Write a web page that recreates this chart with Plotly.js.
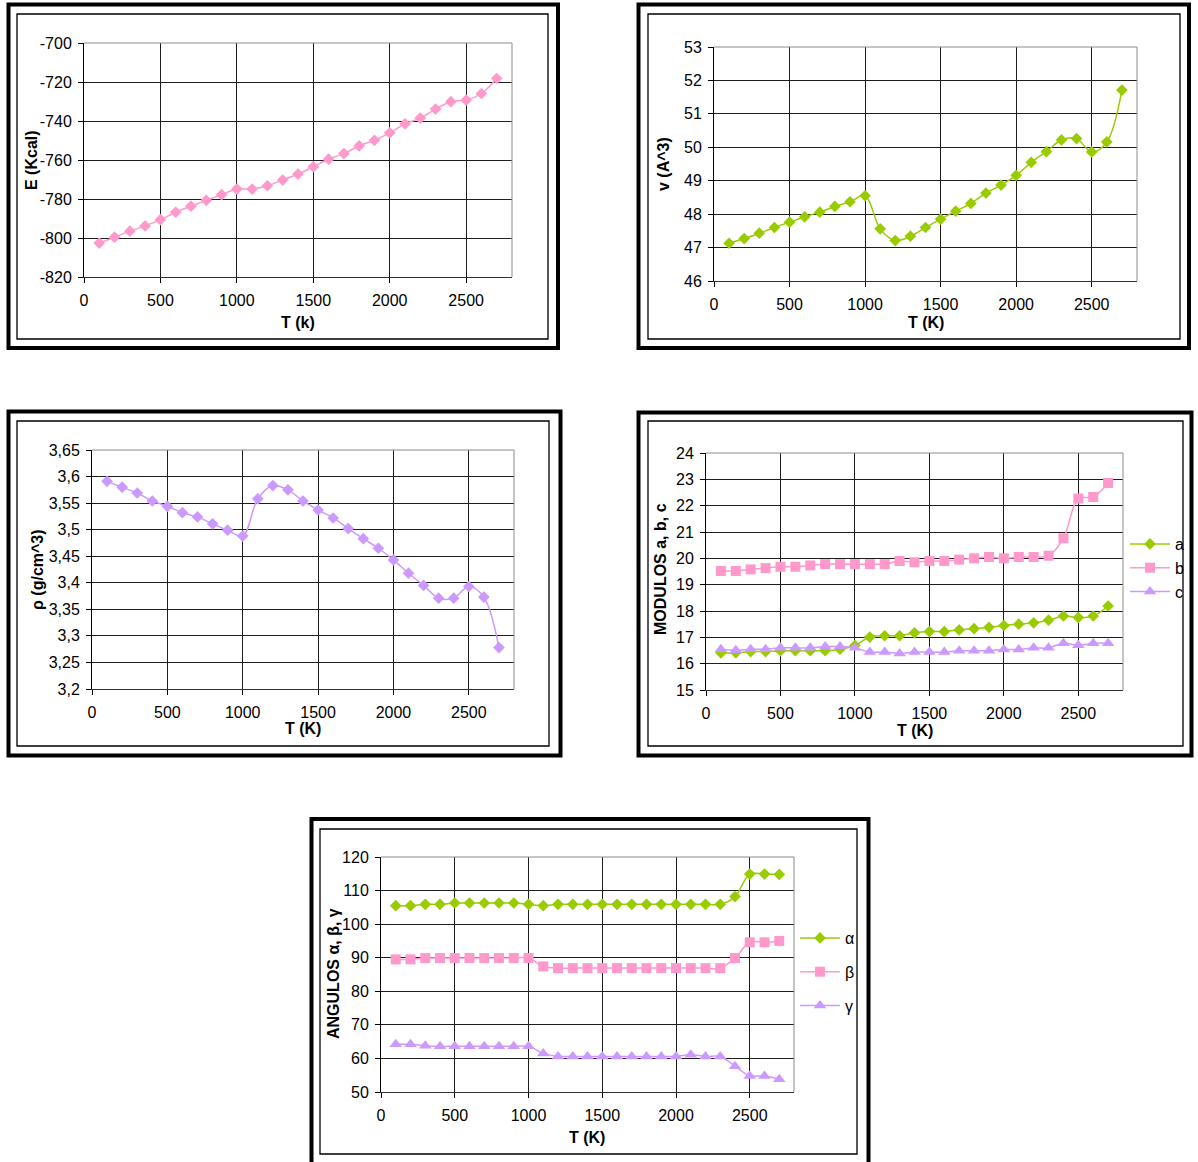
<!DOCTYPE html>
<html>
<head>
<meta charset="utf-8">
<script src="https://cdn.plot.ly/plotly-3.0.1.min.js"></script>
<style>
  html, body { margin: 0; padding: 0; background: #ffffff; }
  #chart { width: 1198px; height: 1162px; }
</style>
</head>
<body>
<div id="chart"></div>
<script>
// Temperatura (K)
const temperatura = [100, 200, 300, 400, 500, 600, 700, 800, 900, 1000, 1100, 1200, 1300, 1400,
  1500, 1600, 1700, 1800, 1900, 2000, 2100, 2200, 2300, 2400, 2500, 2600, 2700];

// Energía (Kcal)
const energia = [-802.6, -799.6, -796.5, -793.8, -790.6, -786.8, -783.7, -780.7, -777.8, -774.9,
  -774.9, -773.2, -770.3, -767.2, -763.5, -759.6, -756.7, -752.8, -749.9, -746.1,
  -741.5, -738.5, -733.9, -730.1, -729.3, -725.9, -718.2];

// Volumen (A^3)
const volumen = [47.13, 47.27, 47.43, 47.60, 47.76, 47.92, 48.06, 48.23, 48.37, 48.55,
  47.56, 47.21, 47.34, 47.60, 47.85, 48.09, 48.32, 48.63, 48.87, 49.16,
  49.55, 49.87, 50.22, 50.26, 49.86, 50.16, 51.71];

// Densidad (g/cm^3)
const densidad = [3.591, 3.580, 3.569, 3.554, 3.544, 3.532, 3.524, 3.511, 3.499, 3.488,
  3.558, 3.583, 3.575, 3.554, 3.537, 3.522, 3.502, 3.483, 3.465, 3.443,
  3.418, 3.395, 3.371, 3.371, 3.393, 3.373, 3.278];

// Módulos a, b, c
const moduloA = [16.41, 16.41, 16.46, 16.46, 16.49, 16.49, 16.49, 16.49, 16.55, 16.69,
  17.01, 17.06, 17.06, 17.17, 17.22, 17.22, 17.28, 17.33, 17.38, 17.45,
  17.50, 17.55, 17.65, 17.81, 17.75, 17.81, 18.19];
const moduloB = [19.52, 19.52, 19.58, 19.63, 19.68, 19.68, 19.73, 19.78, 19.78, 19.78,
  19.78, 19.78, 19.90, 19.85, 19.90, 19.90, 19.95, 20.00, 20.05, 20.00,
  20.05, 20.05, 20.10, 20.76, 22.27, 22.33, 22.86];
const moduloC = [16.55, 16.51, 16.55, 16.55, 16.60, 16.60, 16.60, 16.65, 16.65, 16.60,
  16.44, 16.44, 16.39, 16.44, 16.44, 16.44, 16.49, 16.49, 16.49, 16.54,
  16.54, 16.60, 16.60, 16.78, 16.70, 16.78, 16.78];

// Ángulos α, β, γ
const anguloAlfa = [105.5, 105.5, 105.9, 105.9, 106.3, 106.3, 106.3, 106.3, 106.3, 105.9,
  105.5, 105.9, 105.9, 105.9, 105.9, 105.9, 105.9, 105.9, 105.9, 105.9,
  105.9, 105.9, 105.9, 108.2, 114.9, 114.9, 114.8];
const anguloBeta = [89.5, 89.5, 89.9, 89.9, 89.9, 89.9, 89.9, 89.9, 89.9, 89.9,
  87.4, 86.9, 86.9, 86.9, 86.9, 86.9, 86.9, 86.9, 86.9, 86.9,
  86.9, 86.9, 86.9, 89.9, 94.6, 94.6, 95.0];
const anguloGamma = [64.2, 64.2, 63.8, 63.6, 63.6, 63.6, 63.6, 63.6, 63.6, 63.6,
  61.5, 60.6, 60.6, 60.6, 60.6, 60.6, 60.6, 60.6, 60.6, 60.6,
  61.1, 60.6, 60.6, 57.7, 54.8, 54.8, 53.8];

// Marcas de los ejes
const ticksT = [0, 500, 1000, 1500, 2000, 2500];
const ticksE = [-820, -800, -780, -760, -740, -720, -700];
const etiquetasE = ['-820', '-800', '-780', '-760', '-740', '-720', '-700'];
const ticksV = [46, 47, 48, 49, 50, 51, 52, 53];
const ticksRho = [3.2, 3.25, 3.3, 3.35, 3.4, 3.45, 3.5, 3.55, 3.6, 3.65];
const etiquetasRho = ['3,2', '3,25', '3,3', '3,35', '3,4', '3,45', '3,5', '3,55', '3,6', '3,65'];
const ticksMod = [15, 16, 17, 18, 19, 20, 21, 22, 23, 24];
const ticksAng = [50, 60, 70, 80, 90, 100, 110, 120];

const W = 1198, H = 1162;
const fx = p => p / W;
const fy = p => 1 - p / H;

const VERDE = '#99CC00', ROSA = '#FF99CC', LILA = '#CC99FF';
const FUENTE = 'Liberation Sans, Arial, sans-serif';

function ejeX(x0, x1, anchor) {
  return {
    domain: [fx(x0), fx(x1)], anchor: anchor, range: [0, 2800],
    tickmode: 'array', tickvals: ticksT,
    showgrid: true, gridcolor: '#1e1e1e', gridwidth: 1,
    showline: true, linecolor: '#333333', linewidth: 1,
    ticks: 'outside', ticklen: 5, tickcolor: '#000000', tickwidth: 1,
    ticklabelstandoff: 4,
    tickfont: { family: FUENTE, size: 16, color: '#000000' },
    zeroline: false, fixedrange: true
  };
}
function ejeY(y0, y1, anchor, rango, vals, textos) {
  const e = {
    domain: [fy(y1), fy(y0)], anchor: anchor, range: rango,
    tickmode: 'array', tickvals: vals,
    showgrid: true, gridcolor: '#1e1e1e', gridwidth: 1,
    showline: true, linecolor: '#000000', linewidth: 1,
    ticks: 'outside', ticklen: 5, tickcolor: '#000000', tickwidth: 1,
    ticklabelstandoff: 3,
    tickfont: { family: FUENTE, size: 16, color: '#000000' },
    zeroline: false, fixedrange: true
  };
  if (textos) e.ticktext = textos;
  return e;
}

function serie(y, xa, ya, color, simbolo, tam, nombre, leyenda) {
  return {
    x: temperatura, y: y, xaxis: xa, yaxis: ya,
    type: 'scatter', mode: 'lines+markers', name: nombre,
    line: { color: color, width: 1.5, shape: 'spline', smoothing: 1 },
    marker: { color: color, symbol: simbolo, size: tam },
    showlegend: !!leyenda, legend: leyenda || 'legend', legendgroup: nombre,
    hoverinfo: 'x+y'
  };
}

const datos = [
  serie(energia, 'x', 'y', ROSA, 'diamond', 9, 'E'),
  serie(volumen, 'x2', 'y2', VERDE, 'diamond', 9, 'v'),
  serie(densidad, 'x3', 'y3', LILA, 'diamond', 9, 'ρ'),
  serie(moduloA, 'x4', 'y4', VERDE, 'diamond', 9, 'a', 'legend'),
  serie(moduloB, 'x4', 'y4', ROSA, 'square', 10, 'b', 'legend'),
  serie(moduloC, 'x4', 'y4', LILA, 'triangle-up', 11, 'c', 'legend'),
  serie(anguloAlfa, 'x5', 'y5', VERDE, 'diamond', 9, 'α', 'legend2'),
  serie(anguloBeta, 'x5', 'y5', ROSA, 'square', 10, 'β', 'legend2'),
  serie(anguloGamma, 'x5', 'y5', LILA, 'triangle-up', 11, 'γ', 'legend2')
];

// Marcos: exterior grueso e interior fino de cada gráfico
const marcos = [
  { ext: [8.5, 4.5, 558, 348], int: [17, 14, 548, 339] },
  { ext: [638.5, 4.5, 1189, 348], int: [648, 14, 1180, 339] },
  { ext: [8.5, 411.5, 560.5, 755.5], int: [17, 421, 549, 746] },
  { ext: [638.5, 412.5, 1191.5, 755.5], int: [648, 421, 1183, 746] },
  { ext: [311.5, 819, 868.5, 1166], int: [320, 829, 857, 1154] }
];
const formas = [];
marcos.forEach(m => {
  formas.push({ type: 'rect', xref: 'paper', yref: 'paper', layer: 'above',
    x0: fx(m.ext[0]), y0: fy(m.ext[1]), x1: fx(m.ext[2]), y1: fy(m.ext[3]),
    line: { color: '#000000', width: 4 } });
  formas.push({ type: 'rect', xref: 'paper', yref: 'paper', layer: 'above',
    x0: fx(m.int[0]), y0: fy(m.int[1]), x1: fx(m.int[2]), y1: fy(m.int[3]),
    line: { color: '#000000', width: 1.3 } });
});
// Borde gris superior y derecho del área de trazado
['', '2', '3', '4', '5'].forEach(s => {
  const xr = 'x' + s + ' domain', yr = 'y' + s + ' domain';
  formas.push({ type: 'line', xref: xr, yref: yr, layer: 'above', x0: 0, x1: 1, y0: 1, y1: 1,
    line: { color: '#8c8c8c', width: 1 } });
  formas.push({ type: 'line', xref: xr, yref: yr, layer: 'above', x0: 1, x1: 1, y0: 0, y1: 1,
    line: { color: '#8c8c8c', width: 1 } });
});

function titulo(texto, px, py, vertical) {
  return { text: '<b>' + texto + '</b>', xref: 'paper', yref: 'paper',
    x: fx(px), y: fy(py), xanchor: 'center', yanchor: 'middle',
    showarrow: false, textangle: vertical ? -90 : 0,
    font: { family: FUENTE, size: 16, color: '#000000' } };
}
const titulos = [
  titulo('E (Kcal)', 31, 160, true), titulo('T (k)', 298, 322),
  titulo('v (A^3)', 664, 164, true), titulo('T (K)', 926, 322),
  titulo('ρ (g/cm^3)', 37, 570, true), titulo('T (K)', 303, 729),
  titulo('MODULOS a, b, c', 661, 569, true), titulo('T (K)', 915, 730),
  titulo('ANGULOS α, β, γ', 333, 974, true), titulo('T (K)', 587, 1137)
];

function leyenda(px, py, hueco) {
  return { x: fx(px), y: fy(py), xanchor: 'left', yanchor: 'top',
    bgcolor: 'rgba(0,0,0,0)', borderwidth: 0, traceorder: 'grouped',
    tracegroupgap: hueco, itemwidth: 40, itemclick: false, itemdoubleclick: false,
    font: { family: FUENTE, size: 16, color: '#000000' } };
}

const layout = {
  width: W, height: H, margin: { l: 0, r: 0, t: 0, b: 0 },
  paper_bgcolor: '#ffffff', plot_bgcolor: '#ffffff',
  font: { family: FUENTE, color: '#000000' },
  xaxis: ejeX(84, 512, 'y'),
  yaxis: ejeY(43, 277, 'x', [-820, -700], ticksE, etiquetasE),
  xaxis2: ejeX(714, 1137, 'y2'),
  yaxis2: ejeY(47, 281, 'x2', [46, 53], ticksV),
  xaxis3: ejeX(92, 514, 'y3'),
  yaxis3: ejeY(450, 689, 'x3', [3.2, 3.65], ticksRho, etiquetasRho),
  xaxis4: ejeX(706, 1123, 'y4'),
  yaxis4: ejeY(453, 690, 'x4', [15, 24], ticksMod),
  xaxis5: ejeX(381, 794, 'y5'),
  yaxis5: ejeY(857, 1092, 'x5', [50, 120], ticksAng),
  legend: leyenda(1125, 527, 0),
  legend2: leyenda(795, 921, 10),
  shapes: formas,
  annotations: titulos,
  showlegend: true
};

Plotly.newPlot('chart', datos, layout, { staticPlot: true, displayModeBar: false });
</script>
</body>
</html>
